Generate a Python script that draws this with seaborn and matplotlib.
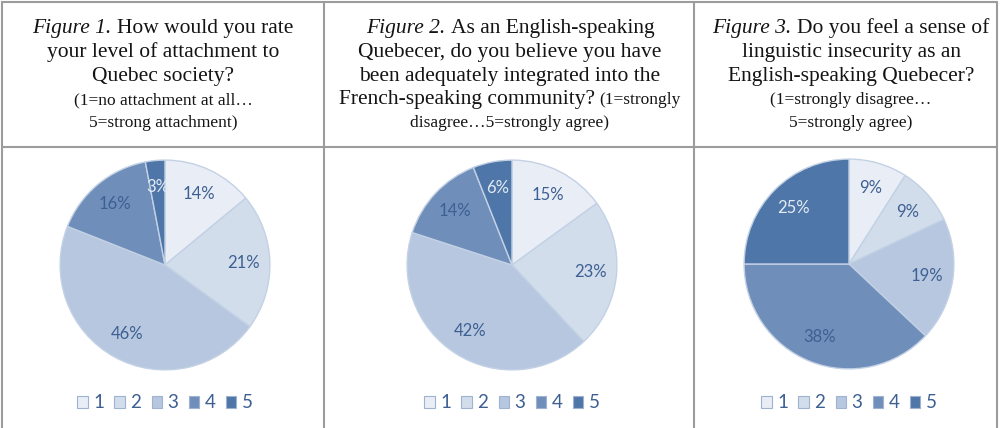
import matplotlib
matplotlib.use("Agg")
import matplotlib.pyplot as plt
import seaborn as sns
from matplotlib.patches import Patch
from matplotlib.lines import Line2D

# ratings 1..5 and percentages for the three survey questions
categories = ["1", "2", "3", "4", "5"]
fig1_values = [14, 21, 46, 16, 3]
fig2_values = [15, 23, 42, 14, 6]
fig3_values = [9, 9, 19, 38, 25]

# header text, each line is a list of (text, style, size) runs
fig1_title = [
    [("Figure 1.", "italic", 15.5), ("How would you rate", "normal", 15.5)],
    [("your level of attachment to", "normal", 15.5)],
    [("Quebec society?", "normal", 15.5)],
    [("(1=no attachment at all…", "normal", 12.5)],
    [("5=strong attachment)", "normal", 12.5)],
]
fig2_title = [
    [("Figure 2.", "italic", 15.5), ("As an English-speaking", "normal", 15.5)],
    [("Quebecer, do you believe you have", "normal", 15.5)],
    [("been adequately integrated into the", "normal", 15.5)],
    [("French-speaking community?", "normal", 15.5), ("(1=strongly", "normal", 12.5)],
    [("disagree…5=strongly agree)", "normal", 12.5)],
]
fig3_title = [
    [("Figure 3.", "italic", 15.5), ("Do you feel a sense of", "normal", 15.5)],
    [("linguistic insecurity as an", "normal", 15.5)],
    [("English-speaking Quebecer?", "normal", 15.5)],
    [("(1=strongly disagree…", "normal", 12.5)],
    [("5=strongly agree)", "normal", 12.5)],
]

sns.set_theme(style="white")
plt.rcParams["font.family"] = ["Lato", "DejaVu Sans"]

colors = sns.color_palette(["#e9eef6", "#d2ddec", "#b6c7df", "#6f8fba", "#4e76a8"])
text_dark = "#3d5f92"
label_colors = [text_dark, text_dark, text_dark, text_dark, "#e4eaf4"]

W, H = 1001, 428
fig = plt.figure(figsize=(W / 100, H / 100), dpi=100)
renderer = fig.canvas.get_renderer()


def put_line(cx, y_px, runs):
    # centre a line made of differently styled runs
    texts = []
    for s, style, size in runs:
        texts.append(fig.text(0, 1 - y_px / H, s, fontsize=size, style=style,
                              family="Liberation Serif", color="#141414",
                              va="baseline", ha="left"))
    widths = [t.get_window_extent(renderer).width for t in texts]
    gaps = [0] + [0.25 * size * 100 / 72 for _, _, size in runs[1:]]
    total = sum(widths) + sum(gaps)
    x = cx - total / 2
    for t, w, g in zip(texts, widths, gaps):
        x += g
        t.set_x(x / W)
        x += w


baselines = [33, 57, 81, 104, 127]
for cx, title in [(163, fig1_title), (510, fig2_title), (851, fig3_title)]:
    for y, runs in zip(baselines, title):
        put_line(cx, y, runs)

# pies
r = 107
for cx, cy, values in [(165, 265, fig1_values), (512, 265, fig2_values), (849, 264, fig3_values)]:
    ax = fig.add_axes([(cx - r) / W, 1 - (cy + r) / H, 2 * r / W, 2 * r / H])
    wedges, _, autotexts = ax.pie(
        values, colors=colors, startangle=90, counterclock=False,
        autopct="%d%%", pctdistance=0.75,
        wedgeprops=dict(edgecolor="#c3d1e5", linewidth=1.0),
        textprops=dict(fontsize=12, family="Lato"),
    )
    for t, c in zip(autotexts, label_colors):
        t.set_color(c)
    ax.set_xlim(-1.02, 1.02)
    ax.set_ylim(-1.02, 1.02)
    ax.axis("off")

    handles = [Patch(facecolor=c, edgecolor="#9fb3d1", linewidth=0.8) for c in colors]
    ax.legend(handles, categories, loc="center", bbox_to_anchor=(cx / W, 1 - 403 / H),
              bbox_transform=fig.transFigure, ncol=5, frameon=False,
              handlelength=0.55, handleheight=0.55, handletextpad=0.3,
              columnspacing=0.55, labelcolor=text_dark,
              prop=dict(family="Lato", size=13.5))

# table borders
line_kw = dict(color="#9c9c9c", linewidth=1.5, transform=fig.transFigure)
for x in [2, 324, 694, 997]:
    fig.add_artist(Line2D([x / W, x / W], [0, 1 - 2 / H], **line_kw))
for y in [2, 147]:
    fig.add_artist(Line2D([2 / W, 997 / W], [1 - y / H, 1 - y / H], **line_kw))

fig.savefig("out.png", dpi=100)
